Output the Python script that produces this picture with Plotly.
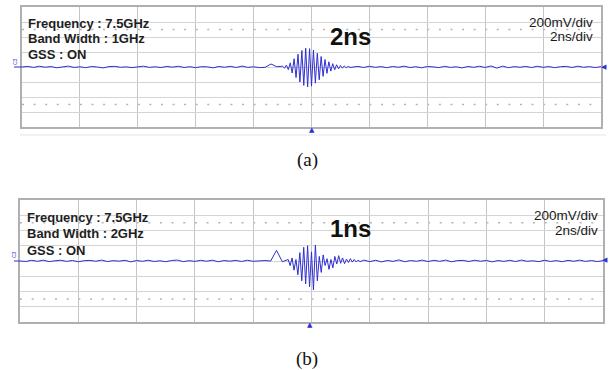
import numpy as np
import plotly.graph_objects as go

W, H = 612, 370

# ---------------- data (mV vs ns) ----------------
# baseline noise samples, every 0.2 ns from -10 ns to +10 ns (101 samples)
noise_a = [0, 8, -5, 10, -3, 6, -10, 4, 12, -6,
           3, -9, 7, 0, -12, 5, 9, -4, 2, -8,
           6, 11, -5, 3, -7, 8, -2, 10, -6, 4,
           -9, 5, 2, -11, 7, -3, 9, -6, 12, -5,
           3, -8, -4, 40, 4, -7, 6, 0, 0, 0,
           0, 0, 0, 0, 0, 0, 0, 0, 8, -6,
           10, -4, 5, -9, 7, -3, 11, -7, 4, -10,
           6, 2, -8, 9, -5, 3, -12, 7, -4, 10,
           -6, 14, -15, 12, -9, 5, -3, 8, -7, 10,
           -4, 6, -9, 4, 8, -6, 11, -3, 5, -7, 4]

# burst samples (zig-zag extrema), every 1/15 ns starting at -1.0 ns
burst_a = [10, -15, 25, -35, 55, -80, 110, -140, 170, -200,
           220, -245, 250, -265, 245, -255, 225, -215, 185, -170,
           140, -125, 100, -85, 70, -55, 45, -38, 30, -25,
           20, -16, 14, -10, 8, -6]
burst_a_start = -1.0

noise_b = [0, -6, 9, -4, 11, -8, 3, 10, -5, 7,
           -10, 4, 8, -3, 12, -7, 5, -2, 9, -11,
           6, -4, 10, -6, 3, -9, 7, 12, -8, 4,
           -5, 9, -3, 11, -10, 6, -2, 8, -6, 10,
           -4, 5, 6, 0, 140, -10, 0, 0, 0, 0,
           0, 0, 0, 0, 0, 0, 0, 0, 0, 12,
           -8, 10, -12, 7, -5, 14, -9, 6, -3, 11,
           -7, 9, -4, 12, -10, 5, 8, -6, 10, -3,
           7, -11, 6, -5, 9, -7, 12, -4, 3, -8,
           10, -6, 5, -9, 8, -3, 11, -5, 6, -7, 4]

burst_b = [20, -60, 40, -120, 20, -180, 110, -260, 180, -300,
           200, -340, 120, -380, 210, -260, 60, -150, 80, -60,
           30, -110, 20, -90, 60, -40, 70, -30, 40, -35,
           25, -20, 30, -15, 20, -12, 10, -8]
burst_b_start = -0.8

panel_texts_a = ["Frequency : 7.5GHz", "Band Width : 1GHz", "GSS : ON"]
panel_texts_b = ["Frequency : 7.5GHz", "Band Width : 2GHz", "GSS : ON"]
scale_texts = ["200mV/div", "2ns/div"]
pulse_labels = ["2ns", "1ns"]
captions = ["(a)", "(b)"]

# ---------------- build traces ----------------
t_noise = np.linspace(-10, 10, len(noise_a))


def build(noise, burst, start):
    noise = np.array(noise, float)
    tb = start + np.arange(len(burst)) / 15.0
    pre = t_noise < start - 1e-6
    post = t_noise > tb[-1] + 0.03
    t = np.concatenate([t_noise[pre], tb, t_noise[post]])
    v = np.concatenate([noise[pre], np.array(burst, float), noise[post]])
    return t, v


ta, va = build(noise_a, burst_a, burst_a_start)
tb_, vb = build(noise_b, burst_b, burst_b_start)

TRACE = "#2f2fd2"
fig = go.Figure()
fig.add_trace(go.Scatter(x=ta, y=va, mode="lines", line=dict(color=TRACE, width=1),
                         xaxis="x", yaxis="y", showlegend=False, hoverinfo="skip"))
fig.add_trace(go.Scatter(x=tb_, y=vb, mode="lines", line=dict(color=TRACE, width=1),
                         xaxis="x2", yaxis="y2", showlegend=False, hoverinfo="skip"))

# panel geometry in pixels: (left, right, top, bottom)
PA = (22, 601, 7, 127)
PB = (20, 603, 200, 322)


def px(x):
    return x / W


def py(y):
    return 1 - y / H


xcommon = dict(range=[-10, 10], tick0=0, dtick=2, showgrid=True, gridcolor="#c4c4c4",
               gridwidth=1, showticklabels=False, ticks="", zeroline=False,
               showline=True, mirror=True, linecolor="#b0b0b0", linewidth=1.5, fixedrange=True)
ycommon = dict(range=[-800, 800], tick0=0, dtick=200, showgrid=True, gridcolor="#d4d4d4",
               gridwidth=1, showticklabels=False, ticks="", zeroline=False,
               showline=True, mirror=True, linecolor="#b0b0b0", linewidth=1.5, fixedrange=True)

fig.update_layout(
    width=W, height=H, margin=dict(l=0, r=0, t=0, b=0),
    paper_bgcolor="white", plot_bgcolor="white",
    xaxis=dict(domain=[px(PA[0]), px(PA[1])], anchor="y", **xcommon),
    yaxis=dict(domain=[py(PA[3]), py(PA[2])], anchor="x", **ycommon),
    xaxis2=dict(domain=[px(PB[0]), px(PB[1])], anchor="y2", **xcommon),
    yaxis2=dict(domain=[py(PB[3]), py(PB[2])], anchor="x2", **ycommon),
)

shapes = []
for xr, yr, dash in [("x", "y", "2px,9.58px"), ("x2", "y2", "2px,9.66px")]:
    for yv in (500, -500):
        shapes.append(dict(type="line", xref=xr, yref=yr, x0=-10, x1=10, y0=yv, y1=yv,
                           line=dict(color="#b4b4b4", width=1.5, dash=dash), layer="below"))
# channel marker stubs on the left
for (l, r, t, b) in (PA, PB):
    yc = (t + b) / 2
    shapes.append(dict(type="line", xref="paper", yref="paper", x0=px(14), x1=px(l),
                       y0=py(yc), y1=py(yc), line=dict(color=TRACE, width=1)))
# faint status line under panel a
shapes.append(dict(type="line", xref="paper", yref="paper", x0=px(20), x1=px(606),
                   y0=py(135), y1=py(135), line=dict(color="#e4e4e4", width=1)))
fig.update_layout(shapes=shapes)

ann = []
LAB = dict(family="Liberation Sans, Arial, sans-serif", size=13, color="#1e1e1e")
for texts, ys, x0 in [(panel_texts_a, (23, 38.5, 54), 26), (panel_texts_b, (217.5, 233, 250), 25)]:
    for txt, yy in zip(texts, ys):
        ann.append(dict(text="<b>%s</b>" % txt, xref="paper", yref="paper", x=px(x0), y=py(yy),
                        xanchor="left", yanchor="middle", showarrow=False, font=LAB))
for ys, xr in [((22.5, 37), 595), ((215.5, 231), 600)]:
    for txt, yy in zip(scale_texts, ys):
        ann.append(dict(text=txt, xref="paper", yref="paper", x=px(xr), y=py(yy),
                        xanchor="right", yanchor="middle", showarrow=False,
                        font=dict(family="Liberation Sans, Arial, sans-serif", size=13.5,
                                  color="#1a1a1a")))
for txt, yy in zip(pulse_labels, (36.5, 228)):
    ann.append(dict(text="<b>%s</b>" % txt, xref="paper", yref="paper", x=px(350.5), y=py(yy),
                    xanchor="center", yanchor="middle", showarrow=False,
                    font=dict(family="Liberation Sans, Arial, sans-serif", size=24, color="#111111")))
for txt, (xx, yy) in zip(captions, ((307.5, 160), (307, 359))):
    ann.append(dict(text=txt, xref="paper", yref="paper", x=px(xx), y=py(yy),
                    xanchor="center", yanchor="middle", showarrow=False,
                    font=dict(family="Liberation Serif, Times New Roman, serif", size=19,
                              color="#111111")))
# trigger / level markers
for (xx, yy) in ((312, 130), (310, 325)):
    ann.append(dict(text="▲", xref="paper", yref="paper", x=px(xx), y=py(yy),
                    xanchor="center", yanchor="middle", showarrow=False,
                    font=dict(family="DejaVu Sans", size=7, color=TRACE)))
for (xx, yy) in ((604, 66.5), (605, 260)):
    ann.append(dict(text="◀", xref="paper", yref="paper", x=px(xx), y=py(yy),
                    xanchor="center", yanchor="middle", showarrow=False,
                    font=dict(family="DejaVu Sans", size=7, color=TRACE)))
for (xx, yy) in ((15, 62), (14, 254)):
    ann.append(dict(text="C3", xref="paper", yref="paper", x=px(xx), y=py(yy),
                    xanchor="center", yanchor="middle", showarrow=False, textangle=-90,
                    font=dict(family="Liberation Sans, Arial, sans-serif", size=5, color=TRACE)))
fig.update_layout(annotations=ann)

fig.write_html("out.html", config={"displayModeBar": False},
               post_script="document.body.style.margin='0';")
